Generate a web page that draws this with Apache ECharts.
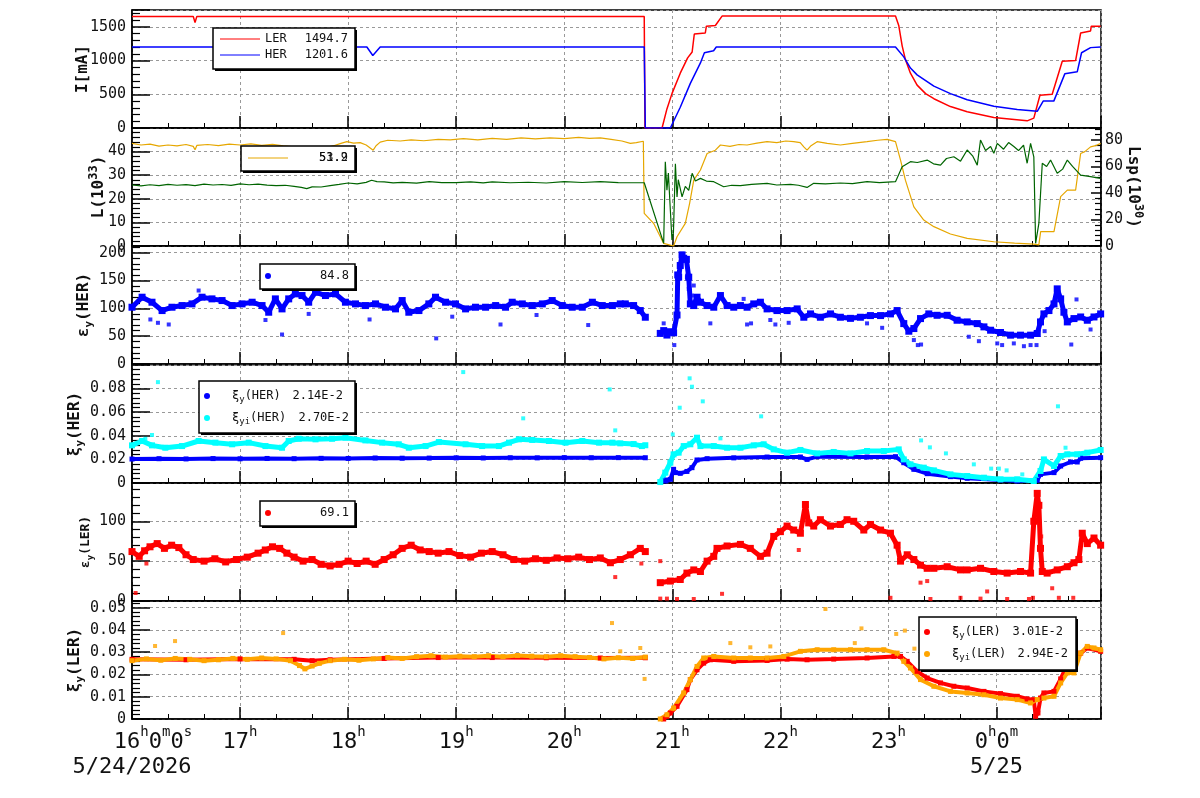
<!DOCTYPE html>
<html>
<head>
<meta charset="utf-8">
<script src="https://cdn.jsdelivr.net/npm/echarts@6/dist/echarts.min.js"></script>
<style>
  html, body { margin: 0; padding: 0; background: #fff; }
  #chart { width: 1200px; height: 798px; }
</style>
</head>
<body>
<div id="chart"></div>
<script>
// x values: minutes since 16:00 on 5/24/2026

// tick labels of the time axis
const tickHours = [16, 17, 18, 19, 20, 21, 22, 23, 0];
const tickDates = ['5/24/2026', '', '', '', '', '', '', '', '5/25'];

// legend texts
const legendCurrent = [['LER', '1494.7'], ['HER', '1201.6']];
const legendLumi = ['51.9', '53.2'];
const legendEmitHer = '84.8';
const legendXiHer = ['2.14E-2', '2.70E-2'];
const legendEmitLer = '69.1';
const legendXiLer = ['3.01E-2', '2.94E-2'];

// panel 1 : beam currents [mA]
const lerCurrent = [[0,1655],[34,1655],[35,1565],[36,1655],[284.4,1655],[284.8,0],[294.3,0],[297,283],[299.8,510],[304.4,813],[308.5,1040],[311,1127],[312.2,1394],[318.3,1409],[318.9,1510],[323.9,1521],[327.6,1660],[423.9,1660],[425.7,1521],[427.6,1218],[429.4,1015],[432.2,813],[435.9,636],[440.6,510],[445.2,434],[454.4,318],[463.7,242],[478.5,156],[497,106],[500.7,146],[504.1,485],[510.9,500],[516.5,990],[523.9,1000],[526.7,1409],[532.2,1440],[532.6,1510],[537.8,1510]];
const herCurrent = [[0,1201],[33.5,1201],[34.4,1180],[35.5,1201],[92.4,1201],[97.4,1005],[104.4,1201],[130.4,1201],[133.7,1076],[137.8,1201],[284.4,1201],[285,0],[298.9,0],[304.4,308],[310,662],[315.6,965],[317.8,1116],[322.9,1146],[324.4,1202],[423.9,1202],[428.5,1055],[432.2,889],[435.9,788],[445.2,621],[454.4,510],[463.7,419],[478.5,323],[491.5,273],[502.6,247],[505.9,399],[511.8,399],[517.9,803],[524.8,833],[527.2,1116],[532.2,1192],[537.8,1202]];

// panel 2 : luminosity L (left) and specific luminosity Lsp (right)
const lumi = [[0,43.5],[5,42.8],[10,43.2],[15,42.3],[20,42.8],[25,42.4],[30,43],[34,42.2],[35,40.8],[36,42.6],[42,43],[48,42.5],[54,43.2],[60,42.8],[66,43.3],[72,42.6],[78,43.1],[84,42.4],[90,42],[93,41.5],[95,39],[97.2,36.4],[99,38.5],[101.7,40.5],[104,40],[107.2,41.6],[112,42.5],[116,43.5],[119.3,44.2],[123,43.6],[126.7,43.8],[130,42.8],[133.9,40.6],[135.5,42.5],[137.8,44],[142,44.8],[148.9,44.5],[155,45],[162,44.6],[170,45.2],[176.7,45],[184,45.5],[192,45],[200,45.6],[208,45.2],[216,45.8],[224,45.4],[232,45.8],[240,45.5],[248,46],[254,45.6],[260,45.8],[266,45.2],[272,44.5],[276.7,43.5],[280,43.8],[283.9,44.4],[284.4,13.8],[289.6,9.6],[295.2,1.1],[300.7,0],[302.6,3.9],[307.2,9.6],[309.6,18.1],[311.9,27.9],[315.6,32.2],[319.3,39.2],[323.9,40.6],[326.7,42.8],[332,42.2],[337,43],[341.5,42.8],[347,43.6],[352.6,44.2],[358,43.8],[363,44.5],[367.4,44.2],[371,43.8],[373,42],[374.8,40.6],[377,42.5],[380.4,44.2],[386,43.5],[393.3,42.8],[400,43.5],[408.1,44.2],[414,44.8],[419.3,45.2],[423.9,44.2],[426.7,36.4],[429.4,27.9],[434.1,16.6],[439.6,11],[445.2,8.2],[454.4,5.1],[463.7,3.2],[478.5,1.8],[490,1.2],[500.7,0.8],[503.5,0.5],[504.5,6.1],[511.9,6.1],[515.6,20.9],[519.3,23.7],[523.9,23.7],[526.7,39.2],[529,40],[532.2,42],[535,42.5],[537.8,43.5]];
const lumiSpecific = [[0,46],[5,45.3],[10,46.2],[15,45.6],[20,46.5],[25,45.8],[30,46.3],[35,45.5],[40,46.6],[45,46],[50,46.4],[55,45.7],[60,46.8],[65,46.2],[70,46.6],[75,45.9],[80,45.5],[85,45.8],[90,45],[94,44.2],[97,43.3],[100,44.6],[105,44.5],[110,45.6],[115,46.5],[120,47.5],[125,46.8],[130,48],[133,49.6],[136,48.6],[140,48.3],[145,47.6],[150,48],[158,47.4],[165,48.5],[172,47.8],[180,47.8],[188,48.4],[195,47.6],[200,48.3],[210,47.7],[220,48.1],[230,47.5],[240,48.5],[250,47.9],[260,48.5],[270,47.8],[276.7,47.7],[284.4,47.7],[295.2,2],[296.1,63.6],[297,42],[297.8,55],[298.9,27],[299.8,4.5],[300.6,10],[301.7,62],[302.6,37],[303.3,50],[305.4,37],[307.2,45],[309.1,42],[311,54.8],[312.8,49],[315.6,51],[318.9,49],[323,48.5],[328.5,44.7],[333,45.8],[337.8,45.5],[344,46.5],[352.6,47.3],[358,46],[365.6,46.5],[370,45.8],[374.8,44.2],[378.5,47.3],[385,46.8],[393.3,47.5],[400,47],[408.1,48.5],[415,47.8],[423.9,48.5],[427.6,59.8],[432.2,63.6],[436,63],[441.5,64.8],[445,62],[448.9,61],[452.2,66],[456.3,67.3],[460,64],[463.7,72.4],[466.7,68],[469.3,61],[471.1,79.9],[473.9,72],[476.7,75],[478.5,69.9],[480.4,77.4],[483.9,73],[486.7,78],[489.6,75],[492.2,72],[495,76],[497,62.4],[498.9,77.4],[500.7,67.3],[501.7,2],[503.5,17.1],[505.4,62.4],[507.8,60],[510,64.8],[513.7,54.8],[516.7,58],[519.3,64.8],[522.2,60],[526.7,53.5],[532.2,52.3],[537.8,51]];

// panel 3 : vertical emittance HER
const emitHer = [[0,102],[5.6,120],[11.1,111],[16.7,96],[22.2,102],[27.8,105],[33.3,108],[38.9,120],[44.4,117],[50,114],[55.6,105],[61.1,108],[66.7,111],[72.2,105],[75.9,93],[79.6,117],[83.3,99],[87,117],[90.7,126],[94.4,123],[98.1,111],[101.9,129],[107.4,123],[113,126],[118.5,111],[124.1,108],[129.6,105],[135.2,108],[140.7,102],[146.3,99],[150,114],[153.7,93],[159.3,96],[164.8,108],[168.5,120],[174.1,111],[179.6,108],[185.2,99],[190.7,102],[196.3,102],[201.9,105],[207.4,102],[211.1,111],[216.7,108],[222.2,105],[227.8,108],[233.3,114],[238.9,105],[244.4,102],[250,102],[255.6,111],[261.1,105],[266.7,105],[271.1,108],[273.9,108],[278.5,105],[282.2,96],[285,84],[289,'-'],[293.3,55],[295.2,60],[297,52],[298.9,58],[300.7,56],[302.6,88],[303,160],[303.5,156],[304.4,177],[305.4,196],[306.3,190],[307.8,188],[309.1,156],[310,108],[311.9,105],[313.7,120],[315.6,111],[319.3,105],[323,102],[326.7,123],[330.4,105],[334.1,102],[337.8,105],[341.5,102],[345.2,108],[348.9,111],[352.6,99],[358.1,96],[363.7,96],[369.3,99],[373,84],[376.7,90],[382.2,84],[387.8,90],[393.3,84],[398.9,82],[404.4,84],[410,87],[415.6,87],[421.1,90],[424.8,96],[428.5,72.6],[431.3,58.9],[434.1,63.7],[437.8,81.6],[442.4,90],[447,87.5],[452.6,87.5],[458.1,78.6],[463.7,75.6],[469.3,72.6],[473,66.7],[476.7,60.7],[482.2,56.6],[487.8,51.8],[493.3,51.8],[498.9,51.8],[502.6,54.8],[504.4,75.6],[506.3,90],[509.1,96],[511.9,108],[513.7,135],[515.6,117],[517.4,93],[519.3,75.6],[523,81.6],[526.7,84.5],[530.4,78.6],[534.1,84.5],[537.8,90]];
const emitHerOut = [[10.2,80],[14.4,74],[20.4,71],[37,132],[74.1,79],[83.3,53],[91.7,141],[95.7,150],[98.1,90],[100,141],[107.4,147],[131.9,80],[168.9,46],[177.8,85],[204.6,71],[224.6,88],[253.3,70],[295.2,73],[301.1,34],[303,88],[305.4,198],[307.2,186],[308.1,156],[309.1,135],[310.9,123],[311.9,141],[321.1,73],[339.6,117],[341.5,71],[343.7,73],[354.4,79],[357.2,71],[364.6,74],[408.1,73],[416.5,65],[434.1,43],[436.3,34],[438.1,35],[464.6,49],[470.2,41],[480.4,37],[483.1,34],[489.6,37],[495.2,32],[498.9,34],[502.2,34],[506.7,59],[521.5,35],[524.4,116],[532.2,62]];

// panel 4 : vertical beam-beam parameter HER
const xiHer = [[0,0.0203],[15,0.0206],[30,0.0204],[45,0.0207],[60,0.0205],[75,0.0208],[90,0.0206],[105,0.0209],[120,0.0208],[135,0.0212],[150,0.0210],[165,0.0211],[180,0.0213],[195,0.0212],[210,0.0214],[225,0.0213],[240,0.0215],[255,0.0214],[270,0.0215],[285,0.0214],[290,'-'],[296.1,0.0017],[297,0.0025],[298.9,0.0031],[300.7,0.0116],[301.7,0.0088],[304.4,0.0082],[308.1,0.0098],[310.9,0.0130],[313.7,0.0195],[319.3,0.0206],[334.1,0.0213],[352.6,0.0220],[371.1,0.0220],[374.8,0.0200],[380.4,0.0223],[408.1,0.0220],[423.9,0.0223],[428.5,0.0172],[434.1,0.0116],[441.5,0.0079],[454.4,0.0054],[463.7,0.0040],[482.2,0.0025],[491.5,0.0017],[502.6,0.0023],[504.4,0.0073],[511.9,0.0088],[515.6,0.0144],[521.1,0.0178],[524.8,0.0178],[526.7,0.0209],[537.8,0.0215]];
const xiiHer = [[0,0.0319],[5.6,0.0356],[11.1,0.0319],[18.5,0.0299],[27.8,0.0313],[37,0.0356],[46.3,0.0342],[55.6,0.0328],[64.8,0.0342],[74.1,0.0313],[83.3,0.0299],[87,0.0356],[92.6,0.0375],[101.9,0.0370],[111.1,0.0375],[118.5,0.0384],[129.6,0.0361],[138.9,0.0342],[148.1,0.0328],[153.7,0.0299],[163,0.0313],[170.4,0.0347],[185.2,0.0328],[194.4,0.0313],[203.7,0.0313],[209.3,0.0342],[214.8,0.0370],[222.2,0.0365],[231.5,0.0356],[240.7,0.0342],[250,0.0356],[259.3,0.0342],[266.7,0.0342],[271.1,0.0336],[278.5,0.0330],[283.1,0.0313],[285,0.0320],[289,'-'],[293.3,0.0008],[296.1,0.0088],[298.9,0.0172],[300.7,0.0243],[303.5,0.0257],[306.3,0.0313],[310,0.0328],[313.7,0.0384],[315.6,0.0313],[323,0.0313],[330.4,0.0299],[337.8,0.0299],[345.2,0.0319],[350.7,0.0328],[356.3,0.0285],[363.7,0.0257],[371.1,0.0280],[380.4,0.0251],[389.6,0.0263],[398.9,0.0251],[408.1,0.0271],[417.4,0.0271],[425.7,0.0285],[428.5,0.0200],[432.2,0.0158],[439.6,0.0130],[445.2,0.0107],[454.4,0.0073],[463.7,0.0059],[473,0.0045],[482.2,0.0031],[491.5,0.0031],[500.7,0.0017],[504.4,0.0102],[506.3,0.0200],[511.9,0.0144],[515.6,0.0229],[519.3,0.0243],[524.8,0.0243],[530.4,0.0257],[537.8,0.0280]];
const xiiHerOut = [[7.4,0.0375],[11.1,0.0407],[14.4,0.0855],[96.3,0.0437],[107.4,0.0474],[111.1,0.0455],[119.4,0.0446],[183.9,0.094],[217.2,0.0548],[265.2,0.0793],[268.3,0.0446],[300.2,0.0412],[304.1,0.0638],[309.6,0.0887],[310.9,0.0816],[316.9,0.0692],[326.7,0.0378],[349.3,0.0565],[438.1,0.0361],[443,0.0302],[451.9,0.0251],[467.4,0.0158],[477,0.0122],[481.3,0.0122],[485.6,0.0107],[494.3,0.0073],[514.1,0.065],[518.3,0.0299]];

// panel 5 : vertical emittance LER
const emitLer = [[0,62],[4,56],[7,63],[10,68],[14,72],[18,66],[22,70],[26,67],[30,58],[34,52],[40,50],[46,53],[52,49],[58,52],[64,55],[70,60],[74,64],[78,68],[82,66],[86,60],[90,55],[95,50],[100,52],[105,46],[110,44],[115,46],[120,50],[125,47],[130,50],[135,46],[140,52],[145,58],[150,66],[155,70],[160,64],[165,62],[170,60],[176,62],[182,57],[188,55],[194,60],[200,62],[206,58],[212,52],[218,50],[224,53],[230,51],[236,54],[242,53],[248,55],[254,52],[260,54],[265.6,48],[271.1,52],[276.7,58],[282.2,66],[285,62],[289,'-'],[293.3,23],[298.9,25],[304.4,27],[308.1,35],[311.9,39],[315.6,37],[319.3,50],[323,56],[324.8,66],[330.4,69],[337.8,71],[343.3,66],[348.9,56],[352.6,60],[356.3,81],[360,87],[363.7,94],[367.4,89],[371.1,85],[373.9,121],[375.7,98],[378.5,94],[382.2,102],[387.8,94],[393.3,96],[397,102],[400.7,100],[406.3,89],[410,96],[415.6,89],[421.1,85],[424.8,70],[426.7,50],[430.4,58],[434.1,52],[437.8,45],[441.5,41],[445.2,41],[452.6,43],[460,39],[463.7,39],[471.1,41],[478.5,37],[485.9,35],[493.3,37],[498.9,35],[500.7,100],[502.6,135],[503.5,120],[504.4,66],[505.4,37],[508.1,35],[513.7,39],[519.3,43],[523,48],[525.7,52],[527.6,85],[530.4,72],[534.1,79],[537.8,70]];
const emitLerOut = [[2,10],[8,47],[268.3,30],[282.8,47],[293.3,50],[293.3,3],[297,3],[302.6,2.5],[311.9,2.5],[327.6,9],[370.2,64],[421.1,4],[437.8,23],[441.5,25],[443.3,2.5],[460,4],[471.1,3],[474.8,12],[485.9,2.5],[498,2.5],[500.2,4],[504.8,81],[510.9,16],[514.6,4],[522.6,4]];

// panel 6 : vertical beam-beam parameter LER
const xiLer = [[0,0.0268],[30,0.0266],[60,0.0270],[90,0.0268],[100,0.0262],[110,0.0266],[140,0.0272],[170,0.0276],[200,0.0276],[230,0.0275],[260,0.0274],[285,0.0275],[290,'-'],[295.2,0],[297,0.0012],[298.9,0.0027],[302.6,0.0057],[308.1,0.0132],[310,0.0177],[313.7,0.0221],[317.4,0.0251],[321.1,0.0266],[334.1,0.0259],[352.6,0.0263],[363.7,0.0269],[374.8,0.0266],[389.6,0.0269],[408.1,0.0274],[423,0.0281],[426.7,0.0281],[430.4,0.0259],[435.9,0.0214],[441.5,0.0184],[448.9,0.0162],[456.3,0.0147],[463.7,0.0139],[473,0.0124],[482.2,0.0114],[491.5,0.0102],[497,0.0090],[500.7,0.0087],[501.7,0.0012],[503,0.0027],[504.4,0.0094],[506.3,0.0117],[511.9,0.0124],[515.6,0.0180],[519.3,0.0244],[523,0.0244],[526.7,0.0296],[530.4,0.0319],[537.8,0.0304]];
const xiiLer = [[0,0.0262],[8,0.0270],[16,0.0264],[24,0.0272],[32,0.0268],[40,0.0262],[48,0.0266],[56,0.0272],[64,0.0268],[72,0.0274],[80,0.0270],[88,0.0262],[93,0.0240],[96,0.0225],[100,0.0238],[104,0.0250],[110,0.0262],[118,0.0268],[126,0.0264],[134,0.0270],[142,0.0276],[150,0.0272],[158,0.0280],[166,0.0284],[174,0.0278],[182,0.0282],[190,0.0280],[198,0.0284],[206,0.0280],[214,0.0285],[222,0.0282],[230,0.0280],[238,0.0284],[246,0.0280],[254,0.0276],[262,0.0270],[270,0.0275],[278,0.0272],[285,0.0278],[289,'-'],[293.3,0],[297,0.0019],[300.7,0.0049],[306.3,0.0117],[310,0.0177],[313.7,0.0236],[317.4,0.0274],[323,0.0281],[334.1,0.0274],[343.3,0.0274],[352.6,0.0274],[361.9,0.0281],[371.1,0.0304],[380.4,0.0311],[389.6,0.0311],[398.9,0.0311],[408.1,0.0311],[417.4,0.0311],[424.8,0.0296],[428.5,0.0259],[432.2,0.0229],[437.8,0.0177],[445.2,0.0147],[454.4,0.0124],[463.7,0.0117],[473,0.0109],[482.2,0.0094],[491.5,0.0087],[498.9,0.0072],[502.6,0.0087],[506.3,0.0094],[511.9,0.0102],[515.6,0.0162],[519.3,0.0207],[523,0.0207],[526.7,0.0296],[530.4,0.0326],[534.1,0.0319],[537.8,0.0311]];
const xiiLerOut = [[12.8,0.0328],[23.9,0.035],[83.9,0.0386],[266.5,0.0431],[271.1,0.0304],[282.2,0.0319],[284.6,0.0180],[332.2,0.0341],[343.3,0.0322],[354.4,0.0326],[385,0.0494],[401.3,0.0341],[405,0.0407],[424.3,0.0382],[429.1,0.0397],[434.4,0.0316]];

const FONT = 'DejaVu Sans Mono';
const TOPS = [10, 128, 246, 365, 483, 601];
const H = 118;

const grids = TOPS.map(t => ({
  left: 132, top: t, width: 969, height: H,
  show: true, borderColor: '#000', borderWidth: 1.5
}));

const xAxes = TOPS.map((t, i) => ({
  type: 'value', gridIndex: i, min: 0, max: 538, interval: 60,
  axisLine: { lineStyle: { color: '#000', width: 1.5 } },
  axisTick: { inside: true, length: 12, lineStyle: { color: '#000', width: 1.5 } },
  minorTick: { show: true, splitNumber: 3, length: 5, lineStyle: { color: '#000', width: 1 } },
  splitLine: { show: true, lineStyle: { color: '#999', type: [3, 3], width: 1 } },
  axisLabel: {
    show: i === 5, margin: 6, showMaxLabel: false, color: '#111',
    formatter: function (v) {
      const k = Math.round(v / 60);
      const hr = tickHours[k];
      let s;
      if (k === 0) s = '{pad|}{n|' + hr + '}{s|h}{n|0}{s|m}{n|0}{s|s}';
      else if (hr === 0) s = '{n|0}{s|h}{n|0}{s|m}';
      else s = '{n|' + hr + '}{s|h}';
      if (tickDates[k]) s += '\n{d|' + tickDates[k] + '}';
      return s;
    },
    rich: {
      n: { fontFamily: FONT, fontSize: 22, lineHeight: 28, verticalAlign: 'bottom', align: 'center', color: '#111' },
      s: { fontFamily: FONT, fontSize: 14, lineHeight: 14, verticalAlign: 'top', align: 'center', color: '#111' },
      d: { fontFamily: FONT, fontSize: 22, lineHeight: 28, align: 'center', color: '#111' },
      pad: { width: 42, align: 'center' }
    }
  }
}));

const nameRich = {
  b: { fontFamily: FONT, fontSize: 16, fontWeight: 'bold', lineHeight: 22, color: '#111' },
  sub: { fontFamily: FONT, fontSize: 11, fontWeight: 'bold', lineHeight: 11, verticalAlign: 'bottom', color: '#111' },
  sup: { fontFamily: FONT, fontSize: 12, fontWeight: 'bold', lineHeight: 12, verticalAlign: 'top', color: '#111' },
  c: { fontFamily: FONT, fontSize: 13, fontWeight: 'bold', lineHeight: 18, color: '#111' },
  subc: { fontFamily: FONT, fontSize: 9, fontWeight: 'bold', lineHeight: 9, verticalAlign: 'bottom', color: '#111' }
};

function yAx(grid, max, interval, name, gap, dec, right) {
  return {
    type: 'value', gridIndex: grid, min: 0, max: max, interval: interval,
    position: right ? 'right' : 'left',
    name: name, nameLocation: 'middle', nameGap: gap, nameRotate: right ? -90 : 90,
    nameMoveOverlap: false,
    nameTextStyle: { rich: nameRich, fontFamily: FONT, fontSize: 16, fontWeight: 'bold', color: '#111' },
    axisLine: { show: true, lineStyle: { color: '#000', width: 1.5 } },
    axisTick: { show: true, inside: true, length: right ? 10 : 18, lineStyle: { color: '#000', width: 1.5 } },
    minorTick: { show: true, splitNumber: 5, length: right ? 6 : 8, lineStyle: { color: '#000', width: 1.2 } },
    splitLine: { show: !right, lineStyle: { color: '#999', type: [3, 3], width: 1 } },
    axisLabel: {
      fontFamily: FONT, fontSize: 15, color: '#111', margin: right ? 4 : 6, showMaxLabel: false,
      formatter: v => (v === 0 ? '0' : (dec ? v.toFixed(dec) : String(Math.round(v))))
    }
  };
}

const yAxes = [
  yAx(0, 1750, 500, '{b|I[mA]}', 38, 0),
  yAx(1, 50, 10, '{b|L(10}{sup|33}{b|)}', 22, 0),
  yAx(1, 89, 20, '{b|Lsp(10}{sup|30}{b|)}', 21, 0, true),
  yAx(2, 212, 50, '{b|ε}{sub|y}{b|(HER)}', 37, 0),
  yAx(3, 0.1, 0.02, '{b|ξ}{sub|y}{b|(HER)}', 46, 2),
  yAx(4, 148, 50, '{c|ε}{subc|y}{c|(LER)}', 37, 0),
  yAx(5, 0.053, 0.01, '{b|ξ}{sub|y}{b|(LER)}', 46, 2)
];

function curve(data, xi, yi, color, w) {
  return { type: 'line', xAxisIndex: xi, yAxisIndex: yi, data: data, symbol: 'none',
    lineStyle: { color: color, width: w }, connectNulls: false, z: 3 };
}
function band(data, xi, yi, color, w, size) {
  return { type: 'line', xAxisIndex: xi, yAxisIndex: yi, data: data, symbol: 'rect', symbolSize: size,
    showAllSymbol: true, itemStyle: { color: color }, lineStyle: { color: color, width: w },
    connectNulls: false, z: 3 };
}
function dots(data, xi, yi, color) {
  return { type: 'scatter', xAxisIndex: xi, yAxisIndex: yi, data: data, symbol: 'rect', symbolSize: 4,
    itemStyle: { color: color }, z: 3 };
}

const series = [
  curve(lerCurrent, 0, 0, '#ff0000', 1.5),
  curve(herCurrent, 0, 0, '#0000ff', 1.5),
  curve(lumi, 1, 1, '#e6a700', 1.2),
  curve(lumiSpecific, 1, 2, '#006400', 1.2),
  band(emitHer, 2, 3, '#0000ff', 5, 7),
  dots(emitHerOut, 2, 3, '#0000ff'),
  band(xiHer, 3, 4, '#0000ff', 4, 5),
  band(xiiHer, 3, 4, '#00ffff', 5, 6),
  dots(xiiHerOut, 3, 4, '#00ffff'),
  band(emitLer, 4, 5, '#ff0000', 5, 7),
  dots(emitLerOut, 4, 5, '#ff0000'),
  band(xiLer, 5, 6, '#ff0000', 4, 5),
  band(xiiLer, 5, 6, '#ffa500', 4, 5),
  dots(xiiLerOut, 5, 6, '#ffa500')
];

// legend boxes
function box(x, y, w, h) {
  return [
    { type: 'rect', shape: { x: x + 2, y: y + 2, width: w, height: h }, style: { fill: '#000' }, z: 100 },
    { type: 'rect', shape: { x: x, y: y, width: w, height: h }, style: { fill: '#fff', stroke: '#000', lineWidth: 1.5 }, z: 101 }
  ];
}
const legRich = {
  m: { fontFamily: FONT, fontSize: 12, lineHeight: 16, color: '#111' },
  sub: { fontFamily: FONT, fontSize: 9, lineHeight: 9, verticalAlign: 'bottom', color: '#111' }
};
function txt(x, y, s, align) {
  return { type: 'text', x: x, y: y, z: 102,
    style: { text: s, fontFamily: FONT, fontSize: 12, fill: '#111', align: align || 'left', verticalAlign: 'middle', rich: legRich } };
}
function seg(x1, x2, y, color) {
  return { type: 'line', shape: { x1: x1, y1: y, x2: x2, y2: y }, style: { stroke: color, lineWidth: 1 }, z: 102 };
}
function dot(x, y, color) {
  return { type: 'circle', shape: { cx: x, cy: y, r: 3 }, style: { fill: color }, z: 102 };
}

const graphics = [].concat(
  box(213, 28, 142, 41),
  [seg(220, 260, 39, '#ff0000'), txt(265, 39, legendCurrent[0][0]), txt(348, 39, legendCurrent[0][1], 'right'),
   seg(220, 260, 55, '#0000ff'), txt(265, 55, legendCurrent[1][0]), txt(348, 55, legendCurrent[1][1], 'right')],
  box(241, 146, 114, 25),
  [seg(248, 288, 158, '#e6a700'), txt(348, 158, legendLumi[0], 'right'), txt(348, 158, legendLumi[1], 'right')],
  box(260, 264, 95, 25),
  [dot(268, 276, '#0000ff'), txt(349, 276, legendEmitHer, 'right')],
  box(199, 381, 156, 52),
  [dot(207, 396, '#0000ff'), txt(232, 396, '{m|ξ}{sub|y}{m|(HER)}'), txt(343, 396, legendXiHer[0], 'right'),
   dot(207, 418, '#00ffff'), txt(232, 418, '{m|ξ}{sub|yi}{m|(HER)}'), txt(349, 418, legendXiHer[1], 'right')],
  box(260, 501, 95, 25),
  [dot(268, 513, '#ff0000'), txt(349, 513, legendEmitLer, 'right')],
  box(919, 617, 157, 53),
  [dot(927, 632, '#ff0000'), txt(952, 632, '{m|ξ}{sub|y}{m|(LER)}'), txt(1063, 632, legendXiLer[0], 'right'),
   dot(927, 654, '#ffa500'), txt(952, 654, '{m|ξ}{sub|yi}{m|(LER)}'), txt(1068, 654, legendXiLer[1], 'right')]
);

const chart = echarts.init(document.getElementById('chart'));
chart.setOption({
  animation: false,
  backgroundColor: '#fff',
  grid: grids,
  xAxis: xAxes,
  yAxis: yAxes,
  series: series,
  graphic: { elements: graphics }
});
</script>
</body>
</html>
